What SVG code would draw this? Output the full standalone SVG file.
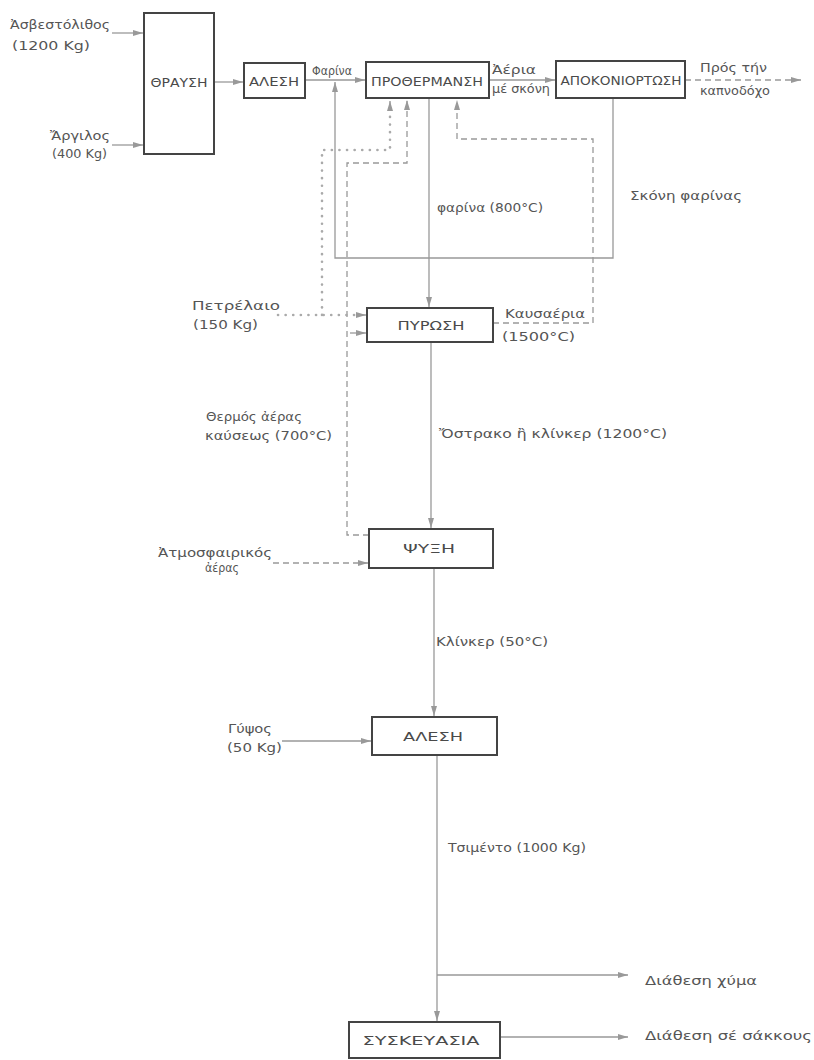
<svg xmlns="http://www.w3.org/2000/svg" width="814" height="1060" viewBox="0 0 814 1060">
<style>
.box{fill:none;stroke:#444;stroke-width:2}
.bl{font-family:"DejaVu Sans","Liberation Sans",sans-serif;font-size:13px;fill:#4a4a4a;text-anchor:middle}
.lb{font-family:"DejaVu Sans","Liberation Sans",sans-serif;font-size:13px;fill:#555}
.sm{font-size:12px}
.ln{fill:none;stroke:#999;stroke-width:1.3}
.da{stroke-dasharray:6 4}
.dt{fill:none;stroke:#aaa;stroke-width:2.6;stroke-linecap:round;stroke-dasharray:0.1 7.5}
</style>
<defs>
<marker id="ah" viewBox="0 0 10 6" refX="10" refY="3" markerWidth="10" markerHeight="6" markerUnits="userSpaceOnUse" orient="auto">
<path d="M0,0 L10,3 L0,6 z" fill="#999"/>
</marker>
</defs>
<rect width="814" height="1060" fill="#fff"/>

<g id="connectors">
<path class="ln" d="M112,33 H143" marker-end="url(#ah)"/>
<path class="ln" d="M112,145 H143" marker-end="url(#ah)"/>
<path class="ln" d="M214,82 H243" marker-end="url(#ah)"/>
<path class="ln" d="M305,80 H365" marker-end="url(#ah)"/>
<path class="ln" d="M489,80 H555" marker-end="url(#ah)"/>
<path class="ln da" d="M685,80 H801" marker-end="url(#ah)"/>
<path class="ln" d="M613,98 V258 H335 V82" marker-end="url(#ah)"/>
<path class="ln" d="M429,98 V307" marker-end="url(#ah)"/>
<path class="ln da" d="M493,323 H593 V139 H457 V100" marker-end="url(#ah)"/>
<path class="ln da" d="M369,535 H347 V163 H407 V100" marker-end="url(#ah)"/>
<path class="ln" d="M350,333 H366" marker-end="url(#ah)"/>
<path class="dt" d="M278,315 H358"/>
<path class="ln" d="M356,315 H366" marker-end="url(#ah)"/>
<path class="dt" d="M322,315 V150 H390 V112"/>
<path class="ln" d="M390,110 V101" marker-end="url(#ah)"/>
<path class="ln" d="M431,342 V528" marker-end="url(#ah)"/>
<path class="ln da" d="M273,563 H368" marker-end="url(#ah)"/>
<path class="ln" d="M434,568 V716" marker-end="url(#ah)"/>
<path class="ln" d="M282,741 H371" marker-end="url(#ah)"/>
<path class="ln" d="M437,755 V1021" marker-end="url(#ah)"/>
<path class="ln" d="M437,975 H628" marker-end="url(#ah)"/>
<path class="ln" d="M500,1037 H628" marker-end="url(#ah)"/>
</g>

<g id="thrausi"><rect class="box" x="144" y="13" width="70" height="141"/><text class="bl" x="179" y="87" textLength="57" lengthAdjust="spacingAndGlyphs">ΘΡΑΥΣΗ</text></g>
<g id="alesi1"><rect class="box" x="244" y="63" width="61" height="35"/><text class="bl" x="274" y="86" textLength="50" lengthAdjust="spacingAndGlyphs">ΑΛΕΣΗ</text></g>
<g id="prothermansi"><rect class="box" x="366" y="62" width="123" height="36"/><text class="bl" x="427" y="86" textLength="112" lengthAdjust="spacingAndGlyphs">ΠΡΟΘΕΡΜΑΝΣΗ</text></g>
<g id="apokoniortosi"><rect class="box" x="556" y="61" width="129" height="37"/><text class="bl" x="621" y="85" textLength="121" lengthAdjust="spacingAndGlyphs">ΑΠΟΚΟΝΙΟΡΤΩΣΗ</text></g>
<g id="pyrosi"><rect class="box" x="367" y="308" width="126" height="34"/><text class="bl" x="431" y="330" textLength="67" lengthAdjust="spacingAndGlyphs">ΠΥΡΩΣΗ</text></g>
<g id="psyxi"><rect class="box" x="369" y="529" width="124" height="39"/><text class="bl" x="429" y="553" textLength="52" lengthAdjust="spacingAndGlyphs">ΨΥΞΗ</text></g>
<g id="alesi2"><rect class="box" x="372" y="717" width="125" height="38"/><text class="bl" x="433" y="741" textLength="60" lengthAdjust="spacingAndGlyphs">ΑΛΕΣΗ</text></g>
<g id="syskeuasia"><rect class="box" x="349" y="1022" width="151" height="36"/><text class="bl" x="421" y="1045" textLength="117" lengthAdjust="spacingAndGlyphs">ΣΥΣΚΕΥΑΣΙΑ</text></g>

<g id="labels">
<text class="lb" x="10" y="29" textLength="100" lengthAdjust="spacingAndGlyphs">Ἀσβεστόλιθος</text>
<text class="lb" x="12" y="50" textLength="78" lengthAdjust="spacingAndGlyphs">(1200 Kg)</text>
<text class="lb" x="50" y="140" textLength="60" lengthAdjust="spacingAndGlyphs">Ἄργιλος</text>
<text class="lb" x="52" y="158" textLength="55" lengthAdjust="spacingAndGlyphs">(400 Kg)</text>
<text class="lb sm" x="312" y="75" textLength="40" lengthAdjust="spacingAndGlyphs">Φαρίνα</text>
<text class="lb sm" x="492" y="74" textLength="44" lengthAdjust="spacingAndGlyphs">Ἀέρια</text>
<text class="lb sm" x="492" y="93" textLength="58" lengthAdjust="spacingAndGlyphs">μέ σκόνη</text>
<text class="lb sm" x="700" y="72" textLength="67" lengthAdjust="spacingAndGlyphs">Πρός τήν</text>
<text class="lb sm" x="700" y="95" textLength="70" lengthAdjust="spacingAndGlyphs">καπνοδόχο</text>
<text class="lb" x="437" y="212" textLength="106" lengthAdjust="spacingAndGlyphs">φαρίνα (800°C)</text>
<text class="lb" x="630" y="200" textLength="112" lengthAdjust="spacingAndGlyphs">Σκόνη φαρίνας</text>
<text class="lb" x="192" y="310" textLength="88" lengthAdjust="spacingAndGlyphs">Πετρέλαιο</text>
<text class="lb" x="193" y="329" textLength="65" lengthAdjust="spacingAndGlyphs">(150 Kg)</text>
<text class="lb" x="505" y="318" textLength="80" lengthAdjust="spacingAndGlyphs">Καυσαέρια</text>
<text class="lb" x="502" y="341" textLength="73" lengthAdjust="spacingAndGlyphs">(1500°C)</text>
<text class="lb" x="206" y="421" textLength="96" lengthAdjust="spacingAndGlyphs">Θερμός ἀέρας</text>
<text class="lb" x="205" y="440" textLength="127" lengthAdjust="spacingAndGlyphs">καύσεως (700°C)</text>
<text class="lb" x="439" y="438" textLength="228" lengthAdjust="spacingAndGlyphs">Ὄστρακο ἢ κλίνκερ (1200°C)</text>
<text class="lb" x="158" y="557" textLength="114" lengthAdjust="spacingAndGlyphs">Ἀτμοσφαιρικός</text>
<text class="lb" x="205" y="572" textLength="34" lengthAdjust="spacingAndGlyphs">ἀέρας</text>
<text class="lb" x="436" y="646" textLength="112" lengthAdjust="spacingAndGlyphs">Κλίνκερ (50°C)</text>
<text class="lb" x="228" y="733" textLength="44" lengthAdjust="spacingAndGlyphs">Γύψος</text>
<text class="lb" x="227" y="752" textLength="55" lengthAdjust="spacingAndGlyphs">(50 Kg)</text>
<text class="lb" x="448" y="852" textLength="138" lengthAdjust="spacingAndGlyphs">Τσιμέντο (1000 Kg)</text>
<text class="lb" x="645" y="985" textLength="112" lengthAdjust="spacingAndGlyphs">Διάθεση χύμα</text>
<text class="lb" x="645" y="1040" textLength="167" lengthAdjust="spacingAndGlyphs">Διάθεση σέ σάκκους</text>
</g>
</svg>
